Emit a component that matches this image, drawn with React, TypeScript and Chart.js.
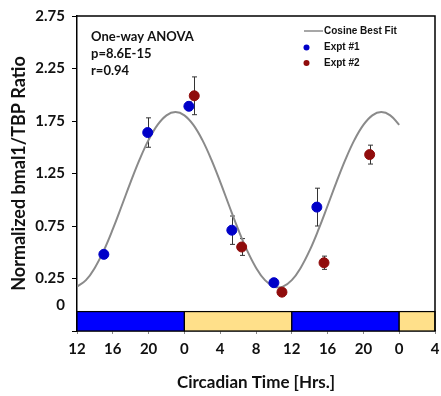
import React, { useEffect, useRef } from "react";
import { Chart, registerables } from "chart.js";

Chart.register(...registerables);

// Expression measurements (circadian hour on a continuous 12–52 h axis)
const expt1Hours = [15.0, 19.9, 24.5, 29.3, 34.0, 38.8];
const expt1Values = [0.48, 1.64, 1.89, 0.71, 0.21, 0.93];
const expt1Errors = [0.03, 0.14, 0.04, 0.135, 0.03, 0.18];

const expt2Hours = [25.1, 30.4, 34.9, 39.6, 44.7];
const expt2Values = [1.99, 0.55, 0.12, 0.4, 1.43];
const expt2Errors = [0.18, 0.08, 0.03, 0.063, 0.09];

// Cosine best-fit curve, sampled hourly
const fitHours = [
  12, 13, 14, 15, 16, 17, 18, 19, 20, 21, 22, 23, 24, 25, 26, 27, 28, 29, 30,
  31, 32, 33, 34, 35, 36, 37, 38, 39, 40, 41, 42, 43, 44, 45, 46, 47, 48,
];
const fitValues = [
  0.173, 0.234, 0.353, 0.518, 0.72, 0.943, 1.17, 1.384, 1.57, 1.713, 1.804,
  1.835, 1.804, 1.713, 1.57, 1.384, 1.17, 0.943, 0.72, 0.518, 0.353, 0.234,
  0.173, 0.173, 0.234, 0.353, 0.518, 0.72, 0.943, 1.17, 1.384, 1.57, 1.713,
  1.804, 1.835, 1.804, 1.713,
];

// Light/dark phase strip under the plot
const phaseStart = [12, 24, 36, 48];
const phaseEnd = [24, 36, 48, 52];
const phaseDark = [true, false, true, false];
const stripTop = -0.065;
const stripBottom = -0.25;

const yTickValues = [-0.25, 0, 0.25, 0.75, 1.25, 1.75, 2.25, 2.75];
const yTickLabels = ["", "0", "0.25", "0.75", "1.25", "1.75", "2.25", "2.75"];

const statsLines = ["One-way ANOVA", "p=8.6E-15", "r=0.94"];
const legendLabels = ["Cosine Best Fit", "Expt #1", "Expt #2"];

const BLUE = "#0000c8";
const RED = "#900c0c";
const CURVE = "#8a8a8a";
const DARK_PHASE = "#0000ff";
const LIGHT_PHASE = "#ffe08a";

const errorBarsPlugin = {
  id: "errorBars",
  beforeDatasetsDraw(chart: any) {
    const { ctx, scales } = chart;
    const xs = scales.x;
    const ys = scales.y;
    const groups = [
      [expt1Hours, expt1Values, expt1Errors],
      [expt2Hours, expt2Values, expt2Errors],
    ];
    ctx.save();
    ctx.strokeStyle = "#333";
    ctx.lineWidth = 1;
    for (const [hours, vals, errs] of groups) {
      hours.forEach((h: number, i: number) => {
        const px = Math.round(xs.getPixelForValue(h)) + 0.5;
        const top = ys.getPixelForValue(vals[i] + errs[i]);
        const bot = ys.getPixelForValue(vals[i] - errs[i]);
        ctx.beginPath();
        ctx.moveTo(px, top);
        ctx.lineTo(px, bot);
        ctx.moveTo(px - 2.5, top);
        ctx.lineTo(px + 2.5, top);
        ctx.moveTo(px - 2.5, bot);
        ctx.lineTo(px + 2.5, bot);
        ctx.stroke();
      });
    }
    ctx.restore();
  },
};

const phaseStripPlugin = {
  id: "phaseStrip",
  beforeDatasetsDraw(chart: any) {
    const { ctx, scales } = chart;
    const xs = scales.x;
    const ys = scales.y;
    const y0 = ys.getPixelForValue(stripTop);
    const y1 = ys.getPixelForValue(stripBottom);
    ctx.save();
    phaseStart.forEach((s, i) => {
      const x0 = xs.getPixelForValue(s);
      const x1 = xs.getPixelForValue(phaseEnd[i]);
      ctx.fillStyle = phaseDark[i] ? DARK_PHASE : LIGHT_PHASE;
      ctx.fillRect(x0, y0, x1 - x0, y1 - y0);
      ctx.strokeStyle = "#000";
      ctx.lineWidth = 1.2;
      ctx.strokeRect(x0, y0, x1 - x0, y1 - y0);
    });
    ctx.restore();
  },
};

const frameAndTextPlugin = {
  id: "frameAndText",
  afterDraw(chart: any) {
    const { ctx, chartArea } = chart;
    const { left, right, top, bottom } = chartArea;
    ctx.save();
    // plot frame
    ctx.strokeStyle = "#000";
    ctx.lineWidth = 1.5;
    ctx.beginPath();
    ctx.moveTo(left, top);
    ctx.lineTo(right, top);
    ctx.lineTo(right, bottom);
    ctx.stroke();

    // statistics text block
    ctx.fillStyle = "#111";
    ctx.font = "bold 13px Lato";
    ctx.textBaseline = "middle";
    ctx.textAlign = "left";
    statsLines.forEach((t, i) => {
      ctx.fillText(t, left + 14, top + 21 + i * 17);
    });

    // legend
    const lx = right - 131;
    ctx.font = "bold 10px 'Liberation Sans', Arial";
    ctx.fillStyle = "#111";
    ctx.strokeStyle = CURVE;
    ctx.lineWidth = 1.5;
    ctx.beginPath();
    ctx.moveTo(lx, top + 15);
    ctx.lineTo(lx + 19, top + 15);
    ctx.stroke();
    ctx.fillText(legendLabels[0], lx + 20, top + 15);
    [BLUE, RED].forEach((c, i) => {
      const cy = top + 31.5 + i * 15.5;
      ctx.fillStyle = c;
      ctx.beginPath();
      ctx.arc(lx + 2.5, cy, 3, 0, Math.PI * 2);
      ctx.fill();
      ctx.fillStyle = "#111";
      ctx.fillText(legendLabels[i + 1], lx + 20, cy);
    });
    ctx.restore();
  },
};

export default function App() {
  const canvasRef = useRef<HTMLCanvasElement | null>(null);

  useEffect(() => {
    let chart: Chart | null = null;
    let cancelled = false;

    const build = () => {
      if (cancelled || !canvasRef.current) return;
      Chart.defaults.font.family = "Lato";
      chart = new Chart(canvasRef.current, {
        type: "scatter",
        data: {
          datasets: [
            {
              label: legendLabels[1],
              data: expt1Hours.map((h, i) => ({ x: h, y: expt1Values[i] })),
              backgroundColor: BLUE,
              borderColor: BLUE,
              pointRadius: 5,
              order: 1,
            },
            {
              label: legendLabels[2],
              data: expt2Hours.map((h, i) => ({ x: h, y: expt2Values[i] })),
              backgroundColor: RED,
              borderColor: RED,
              pointRadius: 5,
              order: 1,
            },
            {
              type: "line",
              label: legendLabels[0],
              data: fitHours.map((h, i) => ({ x: h, y: fitValues[i] })),
              borderColor: CURVE,
              borderWidth: 2,
              pointRadius: 0,
              tension: 0.4,
              fill: false,
              order: 2,
            } as any,
          ],
        },
        options: {
          animation: false,
          responsive: false,
          devicePixelRatio: 1,
          layout: { padding: { top: 16, right: 3, left: 0, bottom: 0 } },
          plugins: {
            legend: { display: false },
            tooltip: { enabled: false },
          },
          scales: {
            x: {
              type: "linear",
              min: 12,
              max: 52,
              ticks: {
                stepSize: 4,
                autoSkip: false,
                maxRotation: 0,
                padding: 6,
                color: "#111",
                font: { size: 15, weight: "bold" },
                callback: (v: any) => String(Number(v) % 24),
              },
              grid: {
                drawOnChartArea: false,
                drawTicks: true,
                tickLength: 3,
                tickColor: "#888",
              },
              border: { display: true, color: "#000", width: 1.5 },
              title: {
                display: true,
                text: "Circadian Time [Hrs.]",
                color: "#111",
                font: { size: 17, weight: "bold" },
                padding: { top: 0, bottom: 3 },
              },
              afterFit: (scale: any) => {
                scale.height = 65;
                scale.paddingLeft = 0;
                scale.paddingRight = 0;
              },
            },
            y: {
              type: "linear",
              min: -0.25,
              max: 2.75,
              afterBuildTicks: (scale: any) => {
                scale.ticks = yTickValues.map((v) => ({ value: v }));
              },
              ticks: {
                autoSkip: false,
                padding: 7,
                color: "#111",
                font: { size: 15, weight: "bold" },
                callback: (v: any) => {
                  const i = yTickValues.indexOf(Number(v));
                  return i >= 0 ? yTickLabels[i] : "";
                },
              },
              grid: {
                drawOnChartArea: false,
                drawTicks: true,
                tickLength: 5,
                tickColor: (c: any) =>
                  c.tick && c.tick.value === 0 ? "rgba(0,0,0,0)" : "#000",
              },
              border: { display: true, color: "#000", width: 1.5 },
              title: {
                display: true,
                text: "Normalized bmal1/TBP Ratio",
                color: "#111",
                font: { size: 18, weight: "bold" },
                padding: { top: 8, bottom: 0 },
              },
              afterFit: (scale: any) => {
                scale.width = 77;
                scale.paddingTop = 0;
                scale.paddingBottom = 0;
              },
            },
          },
        },
        plugins: [phaseStripPlugin, errorBarsPlugin, frameAndTextPlugin],
      });
    };

    if (document.fonts && document.fonts.load) {
      Promise.all([
        document.fonts.load("bold 15px Lato"),
        document.fonts.load("bold 10px 'Liberation Sans'"),
      ])
        .catch(() => undefined)
        .then(build);
    } else {
      build();
    }

    return () => {
      cancelled = true;
      if (chart) chart.destroy();
    };
  }, []);

  return (
    <div
      style={{
        position: "fixed",
        left: 0,
        top: 0,
        width: 441,
        height: 396,
        background: "#fff",
      }}
    >
      <canvas ref={canvasRef} width={441} height={396} />
    </div>
  );
}
